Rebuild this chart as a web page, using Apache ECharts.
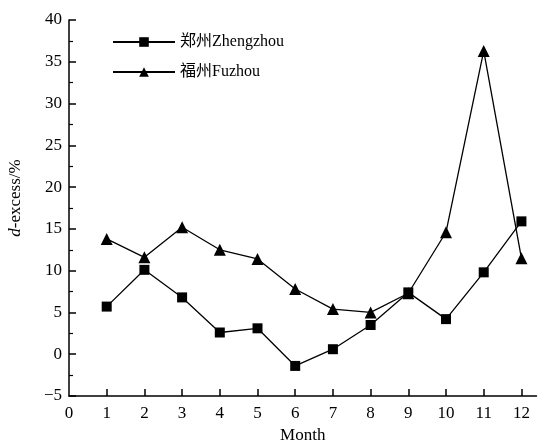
<!DOCTYPE html>
<html>
<head>
<meta charset="utf-8">
<script src="https://cdn.jsdelivr.net/npm/echarts@6/dist/echarts.min.js"></script>
<style>
  html, body { margin: 0; padding: 0; background: #fff; }
  #chart { width: 539px; height: 441px; }
</style>
</head>
<body>
<div id="chart"></div>
<script>
// months and d-excess values
const months = [1, 2, 3, 4, 5, 6, 7, 8, 9, 10, 11, 12];
const zhengzhou = [5.7, 10.1, 6.8, 2.6, 3.1, -1.4, 0.6, 3.5, 7.4, 4.2, 9.8, 15.9];
const fuzhou = [13.8, 11.6, 15.2, 12.5, 11.4, 7.8, 5.4, 5.0, 7.3, 14.6, 36.3, 11.5];
const xLabels = [0, 1, 2, 3, 4, 5, 6, 7, 8, 9, 10, 11, 12];

const font = '"Liberation Serif", "Times New Roman", "Noto Sans CJK SC", serif';

const chart = echarts.init(document.getElementById('chart'));

function pairs(vals) {
  return months.map((m, i) => [m, vals[i]]);
}

const option = {
  animation: false,
  grid: { left: 69, right: 2.5, top: 20, bottom: 45, outerBoundsMode: 'none', containLabel: false },
  legend: {
    left: 112,
    top: 34,
    padding: 0,
    orient: 'vertical',
    itemWidth: 62,
    itemHeight: 12,
    itemGap: 14,
    textStyle: { fontFamily: font, fontSize: 16, color: '#000' },
    data: ['郑州Zhengzhou', '福州Fuzhou']
  },
  xAxis: {
    type: 'value',
    min: 0,
    max: 12.4,
    interval: 1,
    name: 'Month',
    nameLocation: 'middle',
    nameGap: 26,
    nameTextStyle: { fontFamily: font, fontSize: 17, color: '#000' },
    axisLine: { onZero: false, lineStyle: { color: '#000', width: 1.5 } },
    axisTick: { inside: true, length: 7, lineStyle: { color: '#000', width: 1.5 }, customValues: months },
    axisLabel: { fontFamily: font, fontSize: 17, color: '#000', margin: 9, customValues: xLabels },
    splitLine: { show: false }
  },
  yAxis: {
    type: 'value',
    min: -5,
    max: 40,
    interval: 5,
    name: '{i|d}-excess/%',
    nameLocation: 'middle',
    nameGap: 45,
    nameTextStyle: {
      fontFamily: font, fontSize: 17, color: '#000', padding: [0, 0, 0, 20],
      rich: { i: { fontStyle: 'italic', fontFamily: font, fontSize: 17 } }
    },
    axisLine: { show: true, onZero: false, lineStyle: { color: '#000', width: 1.5 } },
    axisTick: { inside: true, length: 7, lineStyle: { color: '#000', width: 1.5 } },
    minorTick: { show: true, splitNumber: 2, length: 4, lineStyle: { color: '#000', width: 1.2 } },
    axisLabel: {
      fontFamily: font, fontSize: 17, color: '#000', margin: 7,
      formatter: v => String(v).replace('-', '\u2212')
    },
    splitLine: { show: false }
  },
  series: [
    {
      name: '郑州Zhengzhou',
      type: 'line',
      data: pairs(zhengzhou),
      symbol: 'rect',
      symbolSize: 10,
      lineStyle: { color: '#000', width: 1.3 },
      itemStyle: { color: '#000' }
    },
    {
      name: '福州Fuzhou',
      type: 'line',
      data: pairs(fuzhou),
      symbol: 'triangle',
      symbolSize: 12,
      lineStyle: { color: '#000', width: 1.3 },
      itemStyle: { color: '#000' }
    }
  ]
};

chart.setOption(option);
</script>
</body>
</html>
